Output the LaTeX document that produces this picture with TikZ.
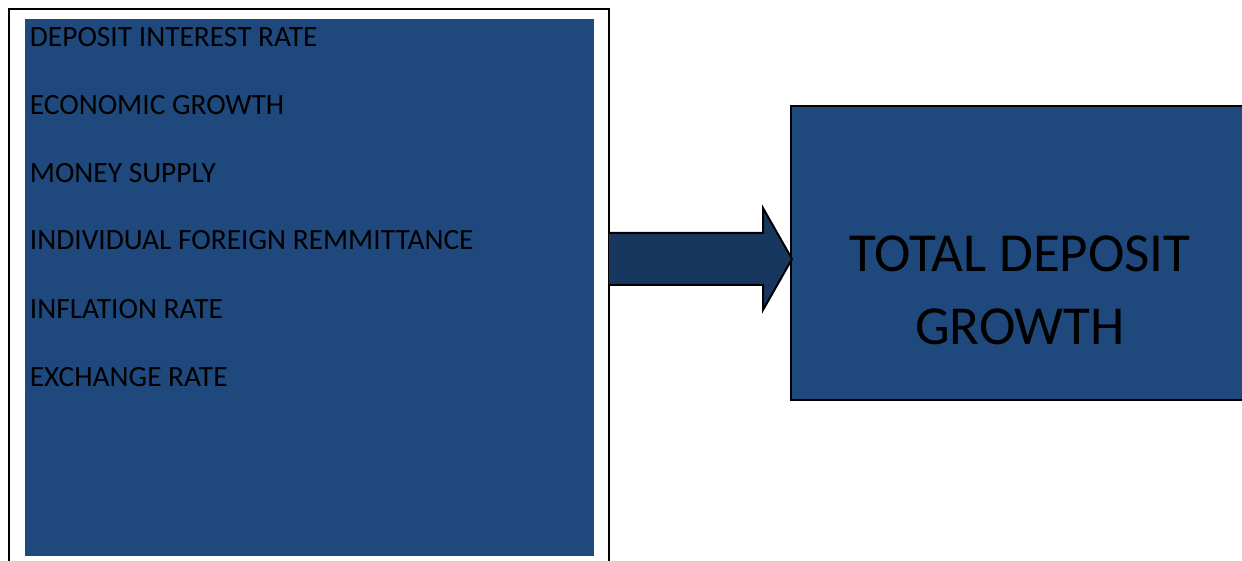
\documentclass[tikz,border=0pt]{standalone}
\usepackage{fontspec}
\setmainfont{Carlito}
\definecolor{boxblue}{HTML}{1F497D}
\definecolor{arrowblue}{HTML}{17375E}
\begin{document}
\begin{tikzpicture}[x=0.5pt,y=-0.5pt,
  item/.style={anchor=base west, font=\fontsize{14.7}{17}\selectfont, text=black, inner sep=0pt},
  outline/.style={draw=black, line width=1pt}]
\useasboundingbox (0,0) rectangle (1242,561);
\clip (0,0) rectangle (1242,561);
% left frame
\draw[outline, fill=white] (9,9) rectangle (609,620);
\node[fill=boxblue, inner sep=0pt, minimum width=284.5pt, minimum height=268.5pt, anchor=north west] (factors) at (25,19) {};
\node[item] (i1) at (29.5,47) {DEPOSIT INTEREST RATE};
\node[item] (i2) at (29.5,115) {ECONOMIC GROWTH};
\node[item] (i3) at (29.5,183) {MONEY SUPPLY};
\node[item] (i4) at (29.5,250) {INDIVIDUAL FOREIGN REMMITTANCE};
\node[item] (i5) at (29.5,318) {INFLATION RATE};
\node[item] (i6) at (29.5,386) {EXCHANGE RATE};
% right box
\draw[outline, fill=boxblue] (791,106) rectangle (1270,400);
\node[align=center, font=\fontsize{27.5}{36.5}\selectfont, text=black, anchor=center] (total) at (1020,290) {TOTAL DEPOSIT\\GROWTH};
% block arrow
\fill[arrowblue] (609,233) -- (763,233) -- (763,208) -- (792,259) -- (763,310) -- (763,285) -- (609,285) -- cycle;
\draw[outline, line join=miter] (609,233) -- (763,233) -- (763,208) -- (792,259) -- (763,310) -- (763,285) -- (609,285);
\end{tikzpicture}
\end{document}
